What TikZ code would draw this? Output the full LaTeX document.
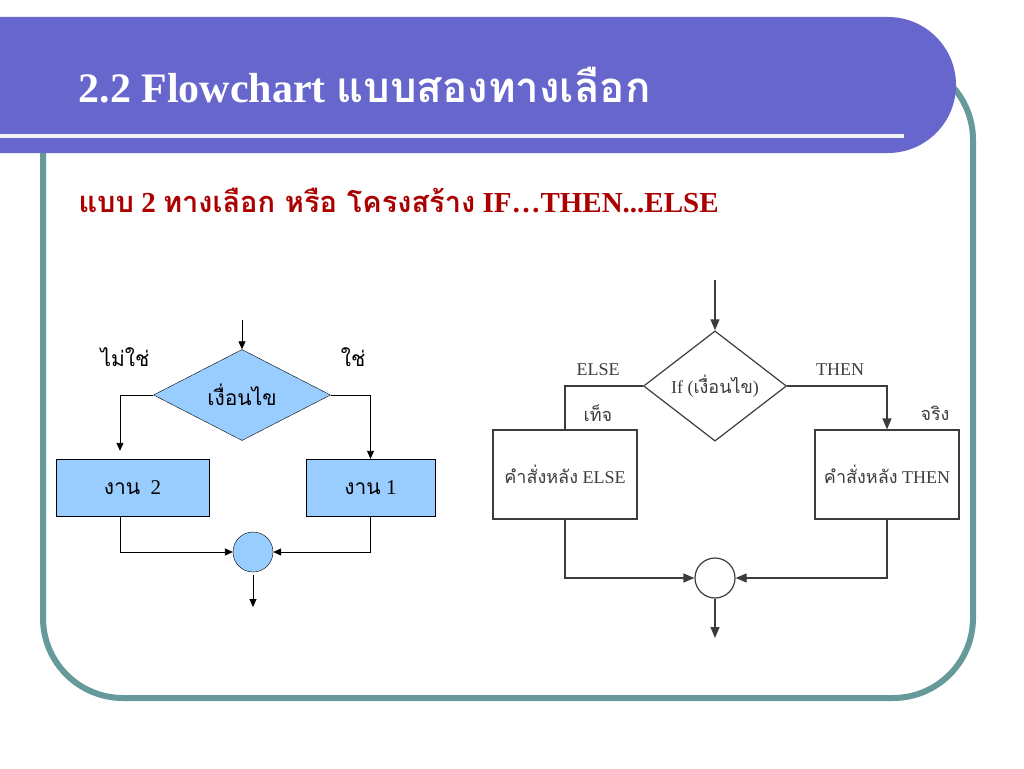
\documentclass[tikz,border=0pt]{standalone}
\usepackage{fontspec}
\setmainfont{Liberation Serif}
\newfontfamily\thai[Script=Thai]{Loma}
\usetikzlibrary{arrows.meta, shapes.geometric, positioning, calc}
\definecolor{BandaMorada}{RGB}{102,102,204}
\definecolor{MarcoVerde}{RGB}{102,153,153}
\definecolor{RojoTitulo}{RGB}{170,0,0}
\definecolor{AzulClaro}{RGB}{153,204,255}
\definecolor{GrisLinea}{RGB}{60,60,60}

\begin{document}
\begin{tikzpicture}[x=1pt, y=-1pt,
	caja/.style={rectangle, draw=black, fill=AzulClaro, inner sep=0pt, font=\fontsize{21}{24}\selectfont},
	decision/.style={diamond, draw=black, fill=AzulClaro, inner sep=0pt, minimum width=177pt, minimum height=80pt, font=\fontsize{21}{24}\selectfont},
	junta/.style={circle, draw=black, fill=AzulClaro, minimum size=40pt, inner sep=0pt},
	flecha/.style={-{Triangle[length=8pt, width=7pt]}, black, line width=0.9pt},
	etiqueta/.style={font=\fontsize{21}{24}\selectfont},
	caja2/.style={rectangle, draw=GrisLinea, line width=1.2pt, minimum width=144pt, minimum height=89pt, inner sep=0pt, text=GrisLinea, font=\fontsize{18}{20}\selectfont},
	decision2/.style={diamond, draw=GrisLinea, line width=1.2pt, minimum width=143pt, minimum height=88pt, inner sep=0pt, text=GrisLinea, font=\fontsize{18}{20}\selectfont},
	junta2/.style={circle, draw=GrisLinea, line width=1.2pt, minimum size=40pt, inner sep=0pt},
	linea2/.style={GrisLinea, line width=1.2pt},
	flecha2/.style={linea2, -{Triangle[length=11pt, width=9pt]}},
	etiqueta2/.style={text=GrisLinea, font=\fontsize{18}{20}\selectfont}]
	\useasboundingbox (0,0) rectangle (1024,768);
	% marco y banda del titulo
	\draw[MarcoVerde, line width=6pt, rounded corners=80pt] (43,60) rectangle (973,698);
	\fill[BandaMorada] (0,17) -- (888,17) arc[start angle=-90, end angle=90, radius=68] -- (0,153) -- cycle;
	\draw[white!92!BandaMorada, line width=4pt] (0,136) -- (904,136);
	\node[anchor=base west, text=white, font=\bfseries\fontsize{42}{48}\selectfont] (titulo) at (75,102) {2.2 Flowchart {\thai แบบสองทางเลือก}};
	\node[anchor=base west, text=RojoTitulo, font=\bfseries\fontsize{29}{32}\selectfont] (subtitulo) at (75,212) {{\thai แบบ} 2 {\thai ทางเลือก หรือ โครงสร้าง} IF…THEN...ELSE};
	% diagrama izquierdo
	\coordinate (entra1) at (242,320);
	\node[decision] (cond1) at (242,395) {\thai เงื่อนไข};
	\node[caja, minimum width=153pt, minimum height=57pt] (tarea2) at (132.5,487.5) {{\thai งาน}\ \ 2};
	\node[caja, minimum width=129pt, minimum height=57pt] (tarea1) at (370.5,487.5) {{\thai งาน} 1};
	\node[junta] (union1) at (253,552) {};
	\coordinate (sale1) at (253,607);
	\node[etiqueta] (no1) at (125,357) {\thai ไม่ใช่};
	\node[etiqueta] (si1) at (353,357) {\thai ใช่};
	\draw[flecha] (entra1) -- (cond1.north);
	\draw[flecha, shorten >=8pt] (cond1.west) -| ([xshift=-12.5pt]tarea2.north);
	\draw[flecha] (cond1.east) -| (tarea1.north);
	\draw[flecha] ([xshift=-12.5pt]tarea2.south) |- (union1.west);
	\draw[flecha] (tarea1.south) |- (union1.east);
	\draw[flecha, shorten <=3pt] (union1.south) -- (sale1);
	% diagrama derecho
	\coordinate (entra2) at (715,280);
	\node[decision2] (cond2) at (715,386) {If ({\thai เงื่อนไข})};
	\node[caja2] (cajaElse) at (565,474.5) {{\thai คำสั่งหลัง} ELSE};
	\node[caja2] (cajaThen) at (887,474.5) {{\thai คำสั่งหลัง} THEN};
	\node[junta2] (union2) at (715,578) {};
	\coordinate (sale2) at (715,638);
	\node[etiqueta2] (lelse) at (598,370) {ELSE};
	\node[etiqueta2] (lthen) at (840,370) {THEN};
	\node[etiqueta2] (lfalso) at (598,413) {\thai เท็จ};
	\node[etiqueta2] (lcierto) at (935,413) {\thai จริง};
	\draw[flecha2] (entra2) -- (cond2.north);
	\draw[linea2] (cond2.west) -| (cajaElse.north);
	\draw[flecha2] (cond2.east) -| (cajaThen.north);
	\draw[flecha2] (cajaElse.south) |- (union2.west);
	\draw[flecha2] (cajaThen.south) |- (union2.east);
	\draw[flecha2] (union2.south) -- (sale2);
\end{tikzpicture}
\end{document}
